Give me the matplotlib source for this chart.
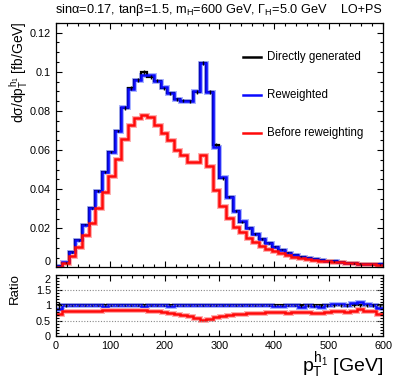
import numpy as np
import matplotlib
matplotlib.use('Agg')
from matplotlib import pyplot as plt
from matplotlib.ticker import MultipleLocator, FixedLocator, FuncFormatter

plt.rcParams['font.family'] = 'Liberation Sans'
plt.rcParams['mathtext.fontset'] = 'custom'
plt.rcParams['mathtext.rm'] = 'Liberation Sans'
plt.rcParams['mathtext.it'] = 'Liberation Sans'

# 50 bins of 12 GeV from 0 to 600
edges = np.linspace(0, 600, 51)

direct = [0.0009, 0.0025, 0.0077, 0.0140, 0.0219, 0.0303, 0.0390, 0.0490, 0.0590, 0.0697,
          0.0815, 0.0917, 0.0957, 0.0998, 0.0975, 0.0955, 0.0915, 0.0890, 0.0860, 0.0853,
          0.0850, 0.0898, 0.1043, 0.0897, 0.0628, 0.0455, 0.0362, 0.0290, 0.0232, 0.0200,
          0.0171, 0.0145, 0.0123, 0.0106, 0.0090, 0.0075, 0.0064, 0.0055, 0.0048, 0.0043,
          0.0038, 0.0034, 0.0031, 0.0027, 0.0024, 0.0021, 0.0020, 0.0019, 0.0017, 0.0016]

reweighted = [0.0008, 0.0026, 0.0077, 0.0140, 0.0219, 0.0303, 0.0390, 0.0490, 0.0590, 0.0700,
              0.0818, 0.0913, 0.0958, 0.0985, 0.0982, 0.0955, 0.0920, 0.0893, 0.0860, 0.0853,
              0.0853, 0.0900, 0.1043, 0.0897, 0.0615, 0.0465, 0.0362, 0.0290, 0.0236, 0.0200,
              0.0171, 0.0145, 0.0123, 0.0106, 0.0087, 0.0075, 0.0064, 0.0055, 0.0048, 0.0043,
              0.0038, 0.0034, 0.0031, 0.0027, 0.0024, 0.0021, 0.0020, 0.0019, 0.0017, 0.0016]

before = [0.0004, 0.0023, 0.0060, 0.0106, 0.0168, 0.0229, 0.0306, 0.0388, 0.0470, 0.0556,
          0.0655, 0.0727, 0.0766, 0.0778, 0.0769, 0.0727, 0.0689, 0.0650, 0.0602, 0.0573,
          0.0539, 0.0539, 0.0576, 0.0521, 0.0397, 0.0313, 0.0251, 0.0205, 0.0180, 0.0152,
          0.0128, 0.0110, 0.0094, 0.0082, 0.0072, 0.0062, 0.0055, 0.0048, 0.0043, 0.0039,
          0.0035, 0.0032, 0.0029, 0.0027, 0.0024, 0.0022, 0.0020, 0.0019, 0.0017, 0.0015]

ratio_rew = [0.89, 1.02, 1.00, 1.00, 1.00, 1.00, 1.00, 0.99, 1.00, 1.00,
             1.00, 1.00, 1.01, 0.99, 1.00, 1.00, 1.00, 0.99, 1.00, 1.01,
             1.00, 1.00, 1.00, 1.00, 1.00, 1.02, 1.00, 1.00, 1.01, 1.00,
             1.00, 1.00, 1.01, 0.99, 0.97, 1.02, 1.03, 0.96, 1.00, 0.97,
             0.96, 1.03, 1.05, 1.06, 1.03, 1.08, 1.11, 1.05, 1.03, 0.93]

ratio_before = [0.72, 0.81, 0.81, 0.82, 0.82, 0.83, 0.83, 0.84, 0.84, 0.84,
                0.855, 0.855, 0.855, 0.84, 0.83, 0.82, 0.80, 0.76, 0.72, 0.69,
                0.64, 0.60, 0.53, 0.57, 0.63, 0.67, 0.69, 0.71, 0.72, 0.74,
                0.77, 0.77, 0.78, 0.80, 0.78, 0.77, 0.78, 0.78, 0.78, 0.77,
                0.74, 0.80, 0.82, 0.83, 0.78, 0.82, 0.89, 0.82, 0.82, 0.73]

# relative stat. error of the directly generated sample
rel_err = [0.10, 0.04, 0.02, 0.015, 0.012, 0.01, 0.01, 0.01, 0.01, 0.01,
           0.01, 0.01, 0.01, 0.01, 0.01, 0.01, 0.01, 0.01, 0.01, 0.01,
           0.01, 0.01, 0.01, 0.01, 0.012, 0.014, 0.015, 0.017, 0.018, 0.02,
           0.02, 0.022, 0.024, 0.026, 0.028, 0.03, 0.032, 0.034, 0.036, 0.038,
           0.04, 0.042, 0.044, 0.046, 0.048, 0.05, 0.052, 0.054, 0.056, 0.06]

main_yticks = [0, 0.02, 0.04, 0.06, 0.08, 0.1, 0.12]
ratio_yticks = [0, 0.5, 1, 1.5, 2]

centers = 0.5 * (edges[:-1] + edges[1:])
direct = np.array(direct)
rel_err = np.array(rel_err)

fig = plt.figure(figsize=(3.99, 3.83), dpi=100)
ax = fig.add_axes([0.140, 0.3016, 0.820, 0.6391])
rax = fig.add_axes([0.140, 0.1227, 0.820, 0.1593])

blue = '#0a0aff'
red = '#ff0a0a'

# main panel
ax.stairs(reweighted, edges, color='#aab4ff', lw=3.6, baseline=None)
ax.stairs(before, edges, color='#ffb0b0', lw=3.6, baseline=None)
ax.stairs(direct, edges, color='black', lw=1.6, baseline=None)
ax.errorbar(centers, direct, yerr=direct * rel_err, fmt='none', ecolor='black', elinewidth=1)
ax.stairs(reweighted, edges, color=blue, lw=1.8, baseline=None)
ax.stairs(before, edges, color=red, lw=1.8, baseline=None)

ax.set_xlim(0, 600)
ax.set_ylim(0, 0.1251)
ax.xaxis.set_major_locator(MultipleLocator(100))
ax.xaxis.set_minor_locator(MultipleLocator(20))
ax.yaxis.set_major_locator(FixedLocator(main_yticks))
ax.yaxis.set_minor_locator(MultipleLocator(0.005))
ax.yaxis.set_major_formatter(FuncFormatter(lambda v, p: '0' if abs(v) < 1e-9 else ('%g' % round(v, 3))))
ax.set_xticklabels([])

# legend entries
leg_y = [0.1078, 0.0883, 0.0688]
leg_lab = ['Directly generated', 'Reweighted', 'Before reweighting']
leg_col = ['black', blue, red]
for yy, lab, col in zip(leg_y, leg_lab, leg_col):
    ax.plot([343, 376], [yy, yy], color=col, lw=1.8)
    ax.text(388, yy, lab, fontsize=8.3, va='center', ha='left')

# ratio panel
for yy in [0.5, 1.0, 1.5]:
    rax.axhline(yy, color='#888888', ls=(0, (1, 1.5)), lw=0.8)
rax.stairs(ratio_rew, edges, color='#aab4ff', lw=3.6, baseline=None)
rax.stairs(ratio_before, edges, color='#ffb0b0', lw=3.6, baseline=None)
rax.stairs(np.ones(50), edges, color='black', lw=1.6, baseline=None)
rax.errorbar(centers, np.ones(50), yerr=rel_err, fmt='none', ecolor='black', elinewidth=1)
rax.stairs(ratio_rew, edges, color=blue, lw=1.8, baseline=None)
rax.stairs(ratio_before, edges, color=red, lw=1.8, baseline=None)

rax.set_xlim(0, 600)
rax.set_ylim(0, 2)
rax.xaxis.set_major_locator(MultipleLocator(100))
rax.xaxis.set_minor_locator(MultipleLocator(20))
rax.yaxis.set_major_locator(FixedLocator(ratio_yticks))
rax.yaxis.set_minor_locator(MultipleLocator(0.1))
rax.yaxis.set_major_formatter(FuncFormatter(lambda v, p: '%g' % v))

for a in (ax, rax):
    a.tick_params(which='both', direction='in', top=True, right=True, labelsize=7.8, pad=3.5)
    a.tick_params(which='major', length=4, width=0.8)
    a.tick_params(which='minor', length=2, width=0.8)
    for s in a.spines.values():
        s.set_linewidth(0.9)

# keep the main "0" and the ratio "2" from sitting on top of each other
ax.yaxis.get_major_ticks()[0].label1.set_verticalalignment('bottom')
rax.yaxis.get_major_ticks()[-1].label1.set_verticalalignment('top')

# labels
fig.text(0.047, 0.945, r'd$\sigma$/d$p_{\mathrm{T}}^{h_1}$ [fb/GeV]', rotation=90,
         ha='center', va='top', fontsize=10)
fig.text(0.037, 1 - 273 / 383, 'Ratio', rotation=90, ha='center', va='top', fontsize=9.5)
fig.text(0.960, 1 - 372 / 383, r'$p_{\mathrm{T}}^{h_1}$ [GeV]', ha='right', va='baseline', fontsize=14)
fig.text(0.138, 1 - 13 / 383, r'sin$\alpha$=0.17, tan$\beta$=1.5, m$_{\mathrm{H}}$=600 GeV, $\Gamma_{\mathrm{H}}$=5.0 GeV',
         ha='left', va='baseline', fontsize=9.2)
fig.text(0.956, 1 - 13 / 383, 'LO+PS', ha='right', va='baseline', fontsize=9)

plt.savefig('out.png', dpi=100)
